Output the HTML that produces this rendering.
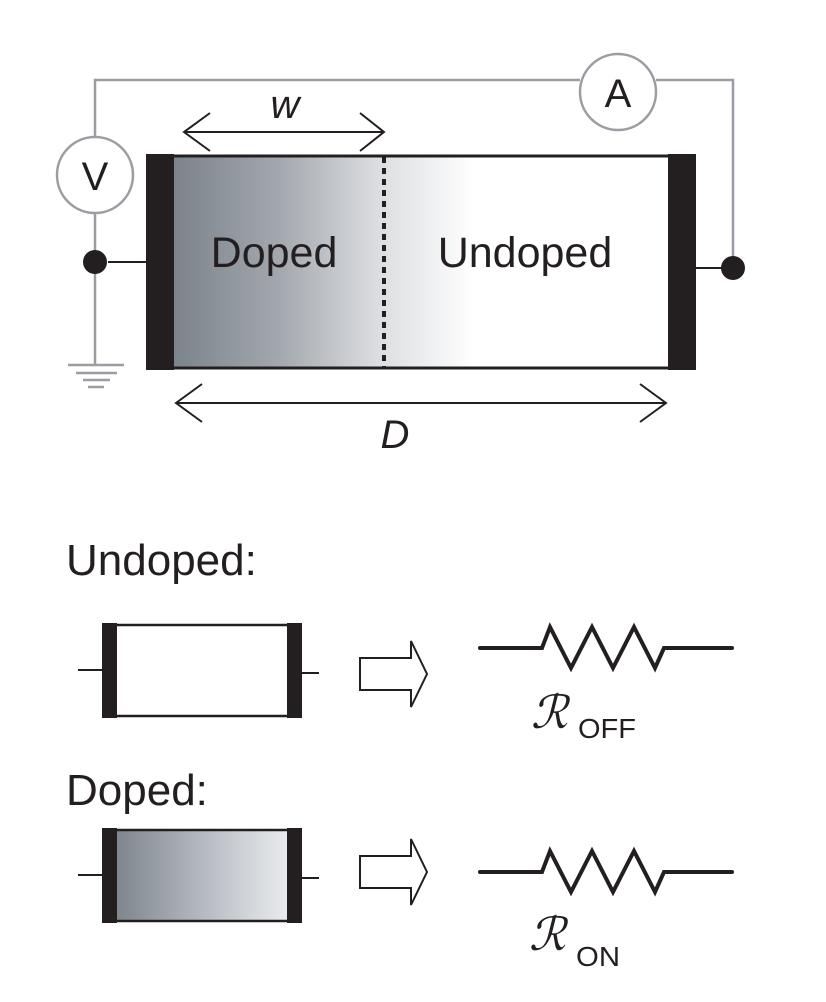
<!DOCTYPE html>
<html><head><meta charset="utf-8"><style>html,body{margin:0;padding:0;background:#fff}svg{display:block}text{font-family:"Liberation Sans",sans-serif;fill:#231f20}</style></head><body>
<svg width="826" height="1002" viewBox="0 0 826 1002" xmlns="http://www.w3.org/2000/svg">
<defs>
<linearGradient id="g1" gradientUnits="userSpaceOnUse" x1="174" x2="475" y1="0" y2="0">
<stop offset="0" stop-color="#7b838b"/><stop offset="0.35" stop-color="#a3a8ae"/><stop offset="0.68" stop-color="#dcdee1"/><stop offset="1" stop-color="#ffffff"/>
</linearGradient>
<linearGradient id="g2" x1="0" x2="1" y1="0" y2="0">
<stop offset="0" stop-color="#7b838b"/><stop offset="0.5" stop-color="#b5b9c0"/><stop offset="1" stop-color="#eceef0"/>
</linearGradient>
</defs>
<g stroke="#9a9ea3" stroke-width="2.5" fill="none">
<polyline points="95,137 95,80 580,80"/>
<polyline points="656,80 733,80 733,268"/>
<line x1="95" y1="213" x2="95" y2="365"/>
<line x1="68" y1="365" x2="124" y2="365"/>
<line x1="76" y1="373" x2="117" y2="373"/>
<line x1="83" y1="380" x2="110" y2="380"/>
<line x1="88" y1="387" x2="104" y2="387"/>
<circle cx="95" cy="175" r="38" fill="#fff"/>
<circle cx="618" cy="92" r="38" fill="#fff"/>
</g>
<text x="95" y="190" font-size="40" text-anchor="middle">V</text>
<text x="618" y="107" font-size="40" text-anchor="middle">A</text>
<rect x="160" y="156" width="530" height="212" fill="#fff" stroke="#231f20" stroke-width="3"/>
<rect x="174" y="157.5" width="301" height="209" fill="url(#g1)"/>
<rect x="146" y="154" width="28" height="216" fill="#231f20"/>
<rect x="668" y="154" width="28" height="216" fill="#231f20"/>
<line x1="384" y1="157" x2="384" y2="367" stroke="#231f20" stroke-width="4" stroke-dasharray="6,5"/>
<line x1="108" y1="262" x2="146" y2="262" stroke="#231f20" stroke-width="2"/>
<circle cx="95" cy="262" r="12" fill="#231f20"/>
<line x1="696" y1="268" x2="722" y2="268" stroke="#231f20" stroke-width="2"/>
<circle cx="733" cy="268" r="12" fill="#231f20"/>
<text x="274" y="267" font-size="43" text-anchor="middle">Doped</text>
<text x="525" y="267" font-size="43" text-anchor="middle">Undoped</text>
<g stroke="#231f20" stroke-width="2" fill="none">
<line x1="184" y1="132" x2="384" y2="132"/>
<polyline points="210,113 184,132 210,151"/>
<polyline points="360,113 384,132 360,151"/>
<line x1="176" y1="403" x2="666" y2="403"/>
<polyline points="202,384 176,403 202,422"/>
<polyline points="640,384 666,403 640,422"/>
</g>
<text x="285" y="118" font-size="40" font-style="italic" text-anchor="middle">w</text>
<text x="395" y="448" font-size="40" font-style="italic" text-anchor="middle">D</text>
<text x="66" y="575" font-size="44">Undoped:</text>
<text x="66" y="805" font-size="44">Doped:</text>
<rect x="112" y="625" width="180" height="91" fill="#fff" stroke="#231f20" stroke-width="2.5"/>
<rect x="102" y="623" width="15" height="95" fill="#231f20"/>
<rect x="287" y="623" width="15" height="95" fill="#231f20"/>
<line x1="78" y1="670" x2="102" y2="670" stroke="#231f20" stroke-width="2"/>
<line x1="302" y1="673" x2="319" y2="673" stroke="#231f20" stroke-width="2"/>
<rect x="112" y="830" width="180" height="91" fill="url(#g2)" stroke="#231f20" stroke-width="2.5"/>
<rect x="102" y="828" width="15" height="95" fill="#231f20"/>
<rect x="287" y="828" width="15" height="95" fill="#231f20"/>
<line x1="78" y1="875" x2="102" y2="875" stroke="#231f20" stroke-width="2"/>
<line x1="302" y1="878" x2="319" y2="878" stroke="#231f20" stroke-width="2"/>
<g stroke="#231f20" stroke-width="2" fill="#fff">
<polygon points="360,658 411,658 411,641 427,674 411,707 411,690 360,690"/>
<polygon points="360,856 411,856 411,839 427,872 411,905 411,888 360,888"/>
</g>
<g stroke="#231f20" stroke-width="4" fill="none" stroke-linecap="round" stroke-linejoin="miter">
<polyline points="480,648 542,648 550,627 571,668 592,627 613,668 634,627 655,668 664,648 732,648"/>
<polyline points="480,872 542,872 550,851 571,892 592,851 613,892 634,851 655,892 664,872 732,872"/>
</g>
<text x="531" y="728" font-size="46" font-style="italic" font-family="Liberation Serif,serif">ℛ</text>
<text x="578" y="738" font-size="28" textLength="58" lengthAdjust="spacingAndGlyphs">OFF</text>
<text x="529" y="950" font-size="46" font-style="italic" font-family="Liberation Serif,serif">ℛ</text>
<text x="576" y="966" font-size="28" textLength="44" lengthAdjust="spacingAndGlyphs">ON</text>
</svg>
</body></html>
